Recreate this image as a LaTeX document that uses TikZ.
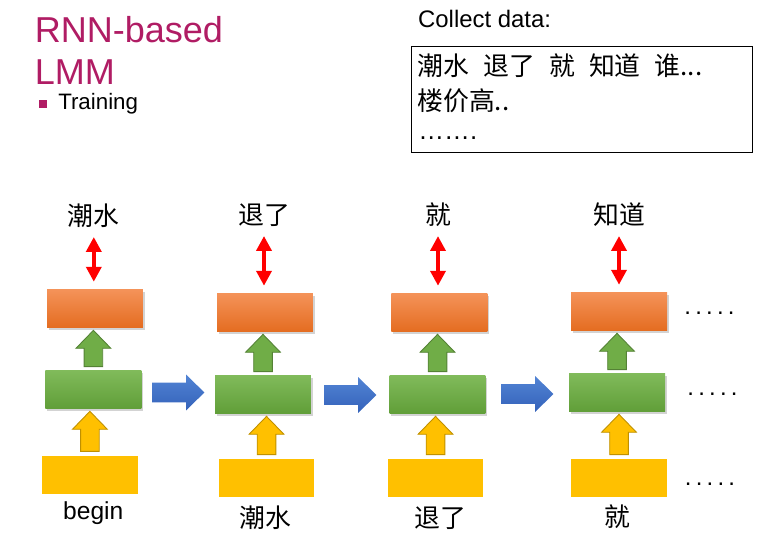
\documentclass[tikz,border=0pt]{standalone}
\usepackage{fontspec}
\setmainfont{Liberation Sans}
\newfontfamily\cjk{Noto Sans CJK SC}
\usetikzlibrary{calc, shadows, arrows.meta}

\definecolor{titlered}{RGB}{176,28,100}
\definecolor{outtop}{RGB}{244,146,88}
\definecolor{outbot}{RGB}{228,108,32}
\definecolor{hidtop}{RGB}{128,186,90}
\definecolor{hidbot}{RGB}{96,158,56}
\definecolor{inyellow}{RGB}{255,192,0}
\definecolor{upgreen}{RGB}{112,173,71}
\definecolor{upgreenline}{RGB}{84,130,53}
\definecolor{upyellowline}{RGB}{191,144,0}
\definecolor{nexttop}{RGB}{82,132,212}
\definecolor{nextbot}{RGB}{52,98,186}

\newcommand\upblock[3]{%
  \path[#3] let \p1=($(#1.north)+(0,4)$), \p2=($(#2.south)+(0,-2)$) in
    (\x1-5.3pt,\y1) -- (\x1-5.3pt,\y2-10.2pt) -- (\x1-9.9pt,\y2-10.2pt) -- (\x1,\y2)
    -- (\x1+9.9pt,\y2-10.2pt) -- (\x1+5.3pt,\y2-10.2pt) -- (\x1+5.3pt,\y1) -- cycle;}
\newcommand\nextblock[3]{%
  \path[#3] let \p1=($(#1.east)!.5!(#2.west)$) in
    (\x1-14.9pt,\y1-5.6pt) -- (\x1+4.5pt,\y1-5.6pt) -- (\x1+4.5pt,\y1-10.2pt) -- (\x1+14.9pt,\y1)
    -- (\x1+4.5pt,\y1+10.2pt) -- (\x1+4.5pt,\y1+5.6pt) -- (\x1-14.9pt,\y1+5.6pt) -- cycle;}
\newcommand\moredots{.\hspace{2.4pt}.\hspace{2.4pt}.\hspace{2.4pt}.\hspace{2.4pt}.}

\begin{document}
\begin{tikzpicture}[x=0.02cm, y=0.02cm,
    outbox/.style = {minimum width=1.92cm, minimum height=0.76cm, top color=outtop, bottom color=outbot,
                  drop shadow={shadow xshift=1pt, shadow yshift=-1pt, opacity=.35}},
    hidbox/.style = {minimum width=1.92cm, minimum height=0.76cm, top color=hidtop, bottom color=hidbot,
                  drop shadow={shadow xshift=1pt, shadow yshift=-1pt, opacity=.35}},
    inbox/.style = {minimum width=1.92cm, minimum height=0.76cm, fill=inyellow},
    word/.style = {font=\cjk\fontsize{14.7}{17}\selectfont, inner sep=0},
    moretext/.style = {font=\fontsize{13.6}{16}\selectfont, inner sep=0, anchor=base},
    greenup/.style = {fill=upgreen, draw=upgreenline, line width=.5pt},
    yellowup/.style = {fill=inyellow, draw=upyellowline, line width=.5pt},
    nextarrow/.style = {top color=nexttop, bottom color=nextbot},
    truth/.style = {red, line width=2.4pt, {Triangle[width=8.5pt,length=8.5pt]}-{Triangle[width=8.5pt,length=8.5pt]},
                    shorten <=5pt, shorten >=4.5pt}]
    \useasboundingbox (0,0) rectangle (780,533);

    \node[anchor=base west, inner sep=0, titlered, font=\fontsize{20.5}{24}\selectfont] (title1) at (34.5,490) {RNN-based};
    \node[anchor=base west, inner sep=0, titlered, font=\fontsize{20.5}{24}\selectfont] (title2) at (34.5,448) {LMM};
    \node[fill=titlered, inner sep=0, minimum size=0.154cm] (bullet) at (42.8,428.8) {};
    \node[anchor=base west, inner sep=0, font=\fontsize{12.7}{15}\selectfont] (train) at (57.9,423) {Training};

    \node[anchor=base west, inner sep=0, font=\fontsize{13.6}{16}\selectfont] (collect) at (417.8,505.7) {Collect data:};
    \node[draw, line width=.7pt, minimum width=6.82cm, minimum height=2.112cm, inner sep=0] (data) at (582.2,433.5) {};
    \node[word, anchor=west] (line1) at (417,467) {潮水\hspace{0.55em}退了\hspace{0.55em}就\hspace{0.55em}知道\hspace{0.55em}谁...};
    \node[word, anchor=west] (line2) at (417,432) {楼价高..};
    \node[anchor=base west, inner sep=0, font=\fontsize{14.7}{17}\selectfont] (line3) at (418,393) {…….};

    \node[outbox] (out1) at (95,224) {};
    \node[hidbox] (hid1) at (93.4,143) {};
    \node[inbox] (in1) at (89.9,58.3) {};
    \node[outbox] (out2) at (265,220) {};
    \node[hidbox] (hid2) at (263,138) {};
    \node[inbox] (in2) at (266.5,55) {};
    \node[outbox] (out3) at (439.3,220) {};
    \node[hidbox] (hid3) at (437.5,138) {};
    \node[inbox] (in3) at (435.5,55) {};
    \node[outbox] (out4) at (619,221) {};
    \node[hidbox] (hid4) at (617,140) {};
    \node[inbox] (in4) at (619,55) {};

    \node[word] (pred1) at (93.8,317) {潮水};
    \node[word] (pred2) at (264,317.5) {退了};
    \node[word] (pred3) at (438,318) {就};
    \node[word] (pred4) at (619,318) {知道};

    \node[anchor=base, inner sep=0, font=\fontsize{14}{17}\selectfont] (tok1) at (93.3,13) {begin};
    \node[word] (tok2) at (265,15.5) {潮水};
    \node[word] (tok3) at (440,15) {退了};
    \node[word] (tok4) at (617,16) {就};

    \node[moretext] (dots1) at (709.5,218.7) {\moredots};
    \node[moretext] (dots2) at (712.5,137.7) {\moredots};
    \node[moretext] (dots3) at (710,47.7) {\moredots};

    \draw [truth] (pred1.south) -- (pred1.south |- out1.north);
    \draw [truth] (pred2.south) -- (pred2.south |- out2.north);
    \draw [truth] (pred3.south) -- (pred3.south |- out3.north);
    \draw [truth] (pred4.south) -- (pred4.south |- out4.north);

    \upblock{hid1}{out1}{greenup}
    \upblock{hid2}{out2}{greenup}
    \upblock{hid3}{out3}{greenup}
    \upblock{hid4}{out4}{greenup}
    \upblock{in1}{hid1}{yellowup}
    \upblock{in2}{hid2}{yellowup}
    \upblock{in3}{hid3}{yellowup}
    \upblock{in4}{hid4}{yellowup}

    \nextblock{hid1}{hid2}{nextarrow}
    \nextblock{hid2}{hid3}{nextarrow}
    \nextblock{hid3}{hid4}{nextarrow}
\end{tikzpicture}
\end{document}
